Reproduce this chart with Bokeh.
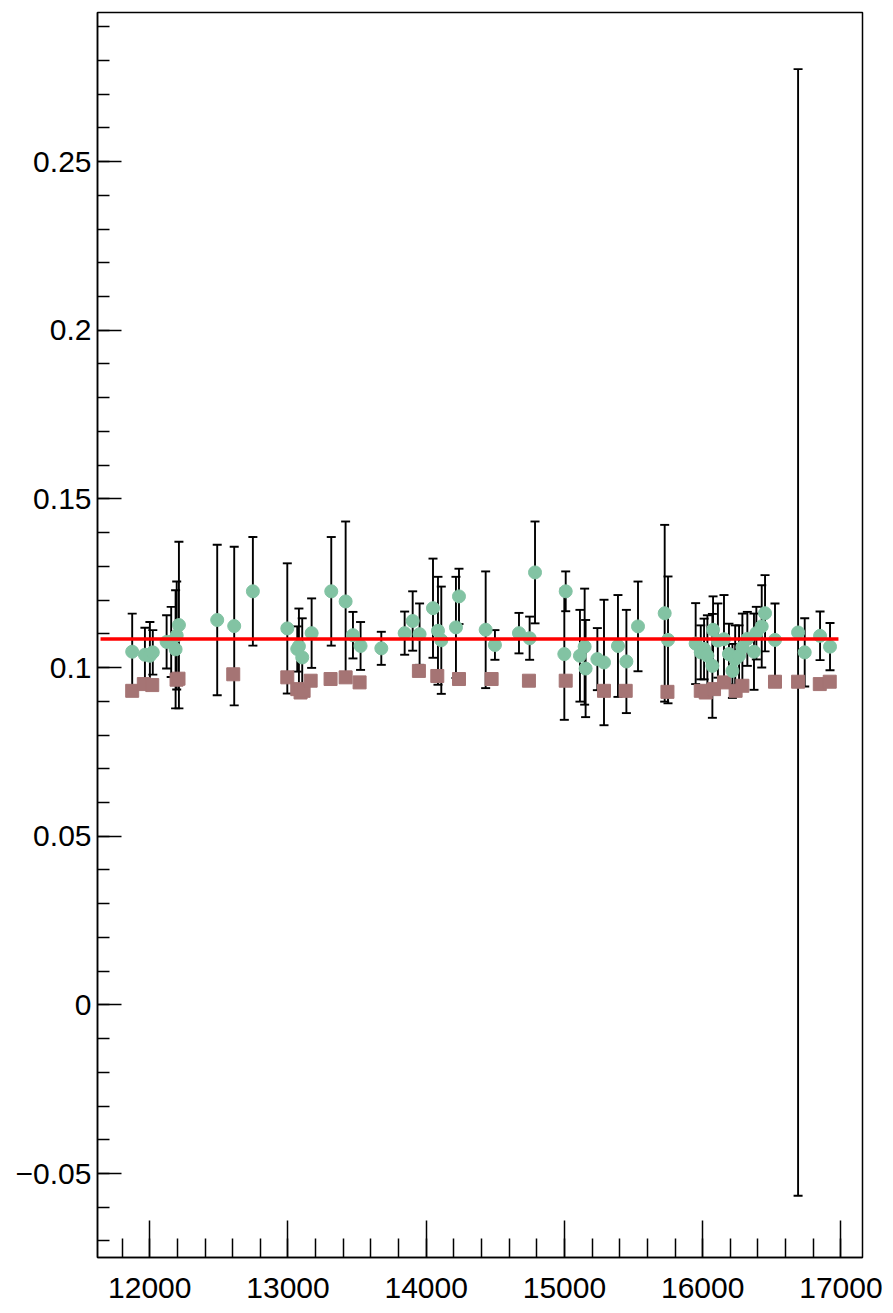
from bokeh.plotting import figure
from bokeh.models import (ColumnDataSource, Whisker, TeeHead, Range1d,
                          SingleIntervalTicker, CustomJSTickFormatter)
from bokeh.embed import file_html
from bokeh.resources import INLINE

# ---- data ----
green_x = [11873, 11965, 12001, 12022, 12122, 12155, 12187, 12195, 12211, 12488,
           12611, 12746, 12995, 13067, 13079, 13103, 13171, 13313, 13417, 13470,
           13525, 13675, 13844, 13902, 13952, 14049, 14085, 14109, 14215, 14237,
           14430, 14497, 14671, 14748, 14787, 14999, 15009, 15112, 15146, 15153,
           15238, 15286, 15387, 15448, 15532, 15725, 15749, 15949, 15986, 16010,
           16034, 16070, 16075, 16110, 16154, 16190, 16215, 16235, 16263, 16287,
           16323, 16371, 16388, 16427, 16451, 16523, 16690, 16738, 16849, 16921]
green_y = [0.1047, 0.1038, 0.1035, 0.1045, 0.1076, 0.1076, 0.1054, 0.1095, 0.1126, 0.1141,
           0.1123, 0.1226, 0.1116, 0.1055, 0.1063, 0.1030, 0.1102, 0.1226, 0.1196, 0.1096,
           0.1064, 0.1057, 0.1102, 0.1138, 0.1099, 0.1176, 0.1109, 0.1081, 0.1119, 0.1211,
           0.1112, 0.1067, 0.1102, 0.1087, 0.1282, 0.1040, 0.1226, 0.1035, 0.1062, 0.0997,
           0.1025, 0.1015, 0.1064, 0.1018, 0.1122, 0.1161, 0.1082, 0.1071, 0.1045, 0.1055,
           0.1035, 0.1005, 0.1112, 0.1080, 0.1084, 0.1040, 0.0990, 0.1025, 0.1035, 0.1060,
           0.1085, 0.1047, 0.1102, 0.1122, 0.1161, 0.1082, 0.1104, 0.1045, 0.1094, 0.1062]
green_err = [0.0113, 0.0080, 0.0100, 0.0066, 0.0079, 0.0104, 0.0175, 0.0160, 0.0247, 0.0223,
             0.0235, 0.0161, 0.0193, 0.0067, 0.0112, 0.0116, 0.0103, 0.0161, 0.0237, 0.0069,
             0.0071, 0.0049, 0.0064, 0.0088, 0.0091, 0.0147, 0.0160, 0.0159, 0.0150, 0.0082,
             0.0173, 0.0044, 0.0060, 0.0064, 0.0151, 0.0195, 0.0059, 0.0136, 0.0172, 0.0144,
             0.0092, 0.0186, 0.0151, 0.0153, 0.0133, 0.0262, 0.0188, 0.0120, 0.0080, 0.0090,
             0.0120, 0.0154, 0.0099, 0.0110, 0.0131, 0.0090, 0.0080, 0.0100, 0.0090, 0.0100,
             0.0080, 0.0113, 0.0078, 0.0122, 0.0113, 0.0108, 0.1670, 0.0101, 0.0072, 0.0070]

brown_x = [11873, 11957, 12018, 12194, 12208, 12604, 12995, 13067, 13091, 13113,
           13164, 13308, 13417, 13518, 13947, 14080, 14237, 14473, 14743, 15009,
           15286, 15443, 15745, 15986, 16022, 16082, 16154, 16238, 16287, 16523,
           16690, 16847, 16919]
brown_y = [0.0931, 0.0951, 0.0948, 0.0964, 0.0967, 0.0980, 0.0971, 0.0936, 0.0926, 0.0931,
           0.0961, 0.0966, 0.0971, 0.0956, 0.0990, 0.0975, 0.0966, 0.0966, 0.0961, 0.0961,
           0.0931, 0.0931, 0.0928, 0.0931, 0.0926, 0.0936, 0.0956, 0.0931, 0.0946, 0.0958,
           0.0958, 0.0951, 0.0958]

fit_x = [11644, 16982]
fit_y = [0.1085, 0.1085]

x_lo, x_hi = 11622, 17156
y_lo, y_hi = -0.0749, 0.2942

# ---- figure ----
p = figure(width=893, height=1313, output_backend="svg", toolbar_location=None,
           x_range=Range1d(x_lo, x_hi), y_range=Range1d(y_lo, y_hi),
           min_border_left=97, min_border_right=31, min_border_top=12,
           min_border_bottom=56)
p.grid.visible = False
p.outline_line_color = "black"
p.outline_line_width = 1.5
p.background_fill_color = "white"
p.border_fill_color = "white"

for ax in (p.xaxis[0], p.yaxis[0]):
    ax.axis_line_color = "black"
    ax.axis_line_width = 1.5
    ax.major_tick_line_color = "black"
    ax.minor_tick_line_color = "black"
    ax.major_tick_line_width = 1.5
    ax.minor_tick_line_width = 1.5
    ax.major_tick_out = 0
    ax.minor_tick_out = 0
    ax.major_label_text_font = "Liberation Sans"
    ax.major_label_text_font_size = "30px"
    ax.major_label_text_color = "black"

p.xaxis.ticker = SingleIntervalTicker(interval=1000, num_minor_ticks=5)
p.xaxis.major_tick_in = 37
p.xaxis.minor_tick_in = 19
p.xaxis.major_label_standoff = 20

p.yaxis.ticker = SingleIntervalTicker(interval=0.05, num_minor_ticks=5)
p.yaxis.major_tick_in = 24
p.yaxis.minor_tick_in = 12
p.yaxis.major_label_standoff = 6
p.yaxis.formatter = CustomJSTickFormatter(code="""
    const v = Math.round(tick * 100) / 100;
    if (v === 0) return "0";
    return v < 0 ? "\u2212" + String(-v) : String(v);
""")

# ---- error bars ----
src = ColumnDataSource(dict(
    x=green_x, y=green_y,
    lower=[y - e for y, e in zip(green_y, green_err)],
    upper=[y + e for y, e in zip(green_y, green_err)],
))
wh = Whisker(source=src, base="x", upper="upper", lower="lower", dimension="height",
             line_color="black", line_width=1.9, level="underlay",
             upper_head=TeeHead(size=9, line_color="black", line_width=1.9),
             lower_head=TeeHead(size=9, line_color="black", line_width=1.9))
p.add_layout(wh)

# ---- markers ----
p.scatter(brown_x, brown_y, marker="square", size=13,
          fill_color="#a57474", line_color="#a57474")
p.scatter("x", "y", source=src, marker="circle", size=13,
          fill_color="#82c3a3", line_color="#82c3a3")

# ---- fit line ----
p.line(fit_x, fit_y, line_color="#ff0000", line_width=3.5)

open("out.html", "w").write(file_html(p, INLINE))
